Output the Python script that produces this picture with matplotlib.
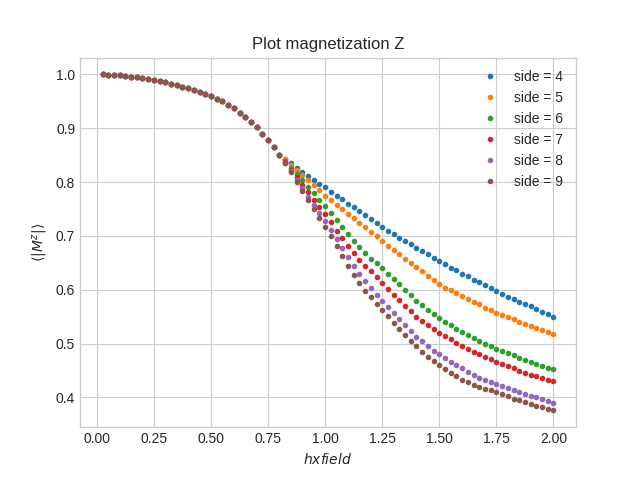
import matplotlib
matplotlib.use("Agg")
import matplotlib.pyplot as plt
import numpy as np

plt.style.use("seaborn-v0_8-whitegrid")

hx = [round(0.025 * i, 3) for i in range(1, 81)]
shared_low = [1.0, .999, .999, .998, .997, .996, .995, .993, .992, .990, .988, .985, .983, .980, .977, .974,
              .971, .968, .964, .960, .955, .950, .944, .937, .929, .921, .912, .902, .890, .878, .865, .851]
tail4 = [.843, .835, .827, .819, .812, .804, .797, .790,
         .782, .775, .768, .760, .753, .746, .738, .731, .724, .717,
         .710, .704, .697, .691, .685, .678, .672, .666, .659, .653,
         .647, .641, .636, .630, .625, .619, .614, .608, .603, .597,
         .592, .587, .583, .578, .573, .569, .564, .559, .555, .550]
tail5 = [.842, .832, .823, .813, .804, .794, .785, .775,
         .767, .758, .750, .741, .733, .724, .716, .707, .699, .690,
         .682, .674, .666, .658, .650, .642, .634, .626, .618, .610,
         .604, .599, .594, .588, .583, .578, .573, .567, .562, .557,
         .553, .549, .545, .541, .537, .533, .529, .525, .521, .517]
tail6 = [.839, .827, .815, .803, .791, .779, .767, .755,
         .742, .729, .716, .703, .691, .679, .668, .658, .649, .640,
         .630, .620, .610, .600, .590, .580, .571, .563, .555, .548,
         .541, .534, .528, .522, .516, .510, .505, .500, .495, .490,
         .486, .482, .478, .474, .470, .466, .462, .459, .455, .452]
tail7 = [.837, .823, .809, .795, .781, .767, .753, .740,
         .725, .710, .696, .682, .668, .655, .645, .634, .623, .613,
         .602, .591, .581, .570, .560, .550, .542, .534, .527, .520,
         .514, .508, .502, .496, .490, .485, .480, .475, .471, .466,
         .462, .458, .454, .450, .446, .442, .439, .436, .433, .430]
tail8 = [.836, .820, .804, .789, .773, .757, .743, .728,
         .711, .694, .677, .660, .644, .629, .616, .603, .591, .580,
         .568, .556, .545, .534, .523, .513, .504, .495, .487, .480,
         .473, .466, .460, .454, .448, .442, .437, .433, .429, .425,
         .421, .417, .413, .410, .406, .403, .400, .397, .393, .390]
tail9 = [.835, .818, .801, .784, .767, .750, .734, .717,
         .699, .681, .663, .645, .628, .612, .598, .586, .574, .563,
         .551, .539, .527, .516, .505, .495, .485, .476, .468, .460,
         .452, .445, .439, .433, .428, .423, .419, .416, .413, .410,
         .406, .402, .398, .395, .391, .388, .385, .382, .379, .376]
sides = [4, 5, 6, 7, 8, 9]
tails = [tail4, tail5, tail6, tail7, tail8, tail9]

fig, ax = plt.subplots(figsize=(6.4, 4.8), dpi=100)
for s, t in zip(sides, tails):
    ax.plot(hx, shared_low + t, '.', label=f"side = {s}")
ax.set_title("Plot magnetization Z")
ax.set_xlabel("$hx field$")
ax.set_ylabel(r"$\langle|M^z|\rangle$")
ax.set_xticks(np.arange(0, 2.01, 0.25))
ax.set_xticklabels([f"{v:.2f}" for v in np.arange(0, 2.01, 0.25)])
ax.legend(loc="upper right", frameon=False)
for sp in ax.spines.values():
    sp.set_visible(True)
    sp.set_color("#cccccc")
fig.savefig("out.png")
